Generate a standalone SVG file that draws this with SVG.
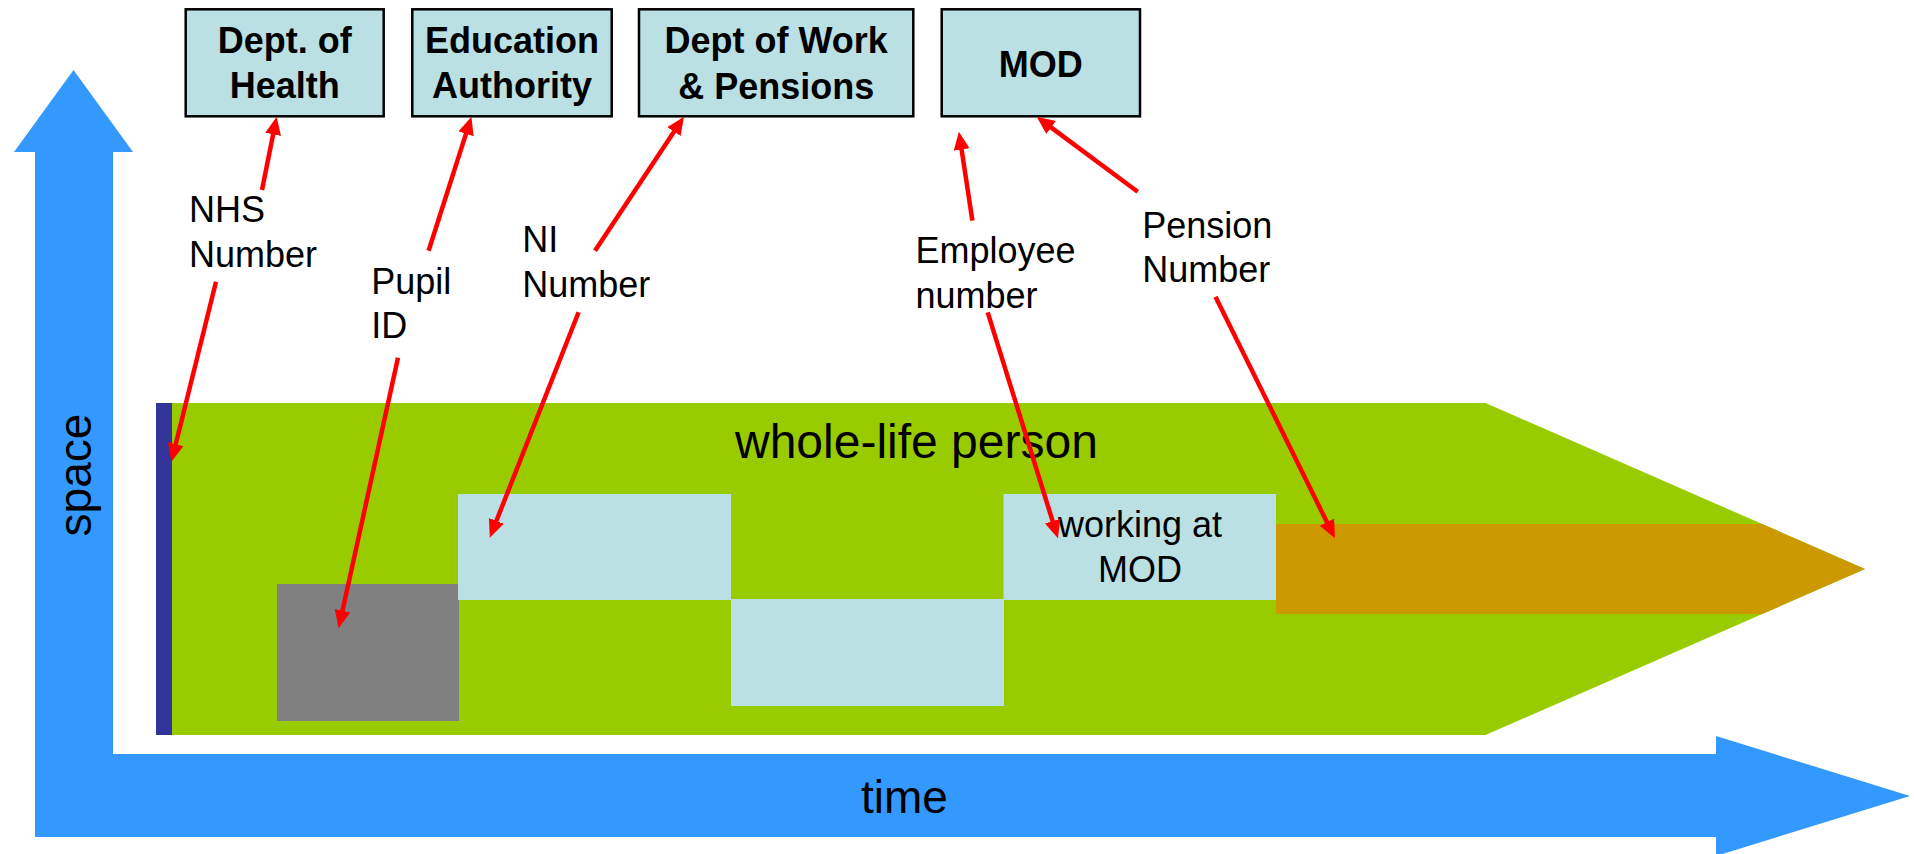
<svg xmlns="http://www.w3.org/2000/svg" width="1914" height="854" viewBox="0 0 1914 854">
  <style>
    text { font-family: "Liberation Sans", Arial, sans-serif; fill: #000; }
    .org rect { fill: #BBE0E3; stroke: #000; stroke-width: 2.5; }
    .org text { font-size: 36px; font-weight: bold; text-anchor: middle; }
    .label { font-size: 36px; }
    .axis { fill: #3399FF; }
    .axis-label { font-size: 46px; }
    .phase { fill: #BBE0E3; }
    .link { stroke: #FF0000; stroke-width: 4.5; fill: none; marker-end: url(#head); }
  </style>
  <defs>
    <marker id="head" markerUnits="userSpaceOnUse" markerWidth="20" markerHeight="18" refX="6" refY="8" orient="auto">
      <path d="M0,0 L18,8 L0,16 z" fill="#FF0000"/>
    </marker>
  </defs>

  <rect width="1914" height="854" fill="#FFFFFF"/>

  <!-- axes -->
  <g id="axis-space">
    <polygon class="axis" points="73.5,70 133,152 113,152 113,837 35,837 35,152 14,152"/>
    <text class="axis-label" transform="translate(91,475) rotate(-90)" text-anchor="middle">space</text>
  </g>
  <g id="axis-time">
    <polygon class="axis" points="35,754 1716,754 1716,736 1910,796 1716,856 1716,837 35,837"/>
    <text class="axis-label" x="861" y="812.7">time</text>
  </g>

  <!-- life band -->
  <g id="whole-life">
    <polygon fill="#99CC00" points="160,403 1485.5,403 1865,569 1485.5,735 160,735"/>
    <rect x="156" y="403" width="16" height="332" fill="#333399"/>
    <text x="735" y="458" font-size="48">whole-life person</text>
  </g>
  <g id="school">
    <rect x="277" y="584" width="182" height="137" fill="#808080"/>
  </g>
  <g id="job-1">
    <rect class="phase" x="458" y="494" width="273" height="106"/>
  </g>
  <g id="job-2">
    <rect class="phase" x="731" y="599" width="273" height="107"/>
  </g>
  <g id="job-mod">
    <rect class="phase" x="1003.5" y="494" width="272.5" height="106"/>
    <text class="label" x="1140" y="536.7" text-anchor="middle">working at</text>
    <text class="label" x="1140" y="581.7" text-anchor="middle">MOD</text>
  </g>
  <g id="pension">
    <polygon fill="#CC9900" points="1276,524 1762,524 1865,569 1762,614 1276,614"/>
  </g>

  <!-- organisations -->
  <g id="dept-health" class="org">
    <rect x="185.7" y="9.3" width="198" height="107"/>
    <text x="284.7" y="53.3">Dept. of</text>
    <text x="284.7" y="98.3">Health</text>
  </g>
  <g id="education" class="org">
    <rect x="412.3" y="9.3" width="199.4" height="107"/>
    <text x="512" y="53.3">Education</text>
    <text x="512" y="98.3">Authority</text>
  </g>
  <g id="dwp" class="org">
    <rect x="639" y="9.3" width="274.3" height="107"/>
    <text x="776.2" y="53.3">Dept of Work</text>
    <text x="776.2" y="99.3">&amp; Pensions</text>
  </g>
  <g id="mod" class="org">
    <rect x="941.7" y="9.3" width="198.3" height="107"/>
    <text x="1040.8" y="76.5">MOD</text>
  </g>

  <!-- identifier labels -->
  <g id="nhs-number">
    <text class="label" x="189" y="221.7">NHS</text>
    <text class="label" x="189" y="267.3">Number</text>
  </g>
  <g id="pupil-id">
    <text class="label" x="371.2" y="294.3">Pupil</text>
    <text class="label" x="371.2" y="338.3">ID</text>
  </g>
  <g id="ni-number">
    <text class="label" x="522.3" y="251.7">NI</text>
    <text class="label" x="522.3" y="296.7">Number</text>
  </g>
  <g id="employee-number">
    <text class="label" x="915.5" y="263.3">Employee</text>
    <text class="label" x="915.5" y="308.3">number</text>
  </g>
  <g id="pension-number">
    <text class="label" x="1142.2" y="237.7">Pension</text>
    <text class="label" x="1142.2" y="281.7">Number</text>
  </g>

  <!-- connectors: each line stops 12px short of the tip; the marker supplies the rest -->
  <g id="connectors">
    <line class="link" x1="262" y1="190" x2="274.3" y2="128.5"/>
    <line class="link" x1="216" y1="281.7" x2="174.3" y2="450"/>
    <line class="link" x1="428.6" y1="250.7" x2="467.8" y2="128.1"/>
    <line class="link" x1="398" y1="357.7" x2="341.2" y2="616.6"/>
    <line class="link" x1="595" y1="250.7" x2="677.3" y2="126.7"/>
    <line class="link" x1="578.6" y1="312.3" x2="494.2" y2="526.5"/>
    <line class="link" x1="972.4" y1="220.7" x2="960.7" y2="143.6"/>
    <line class="link" x1="987.7" y1="312.3" x2="1054.4" y2="526.8"/>
    <line class="link" x1="1137.7" y1="191.7" x2="1046.3" y2="123.9"/>
    <line class="link" x1="1215.5" y1="296.7" x2="1329.6" y2="527.5"/>
  </g>
</svg>
